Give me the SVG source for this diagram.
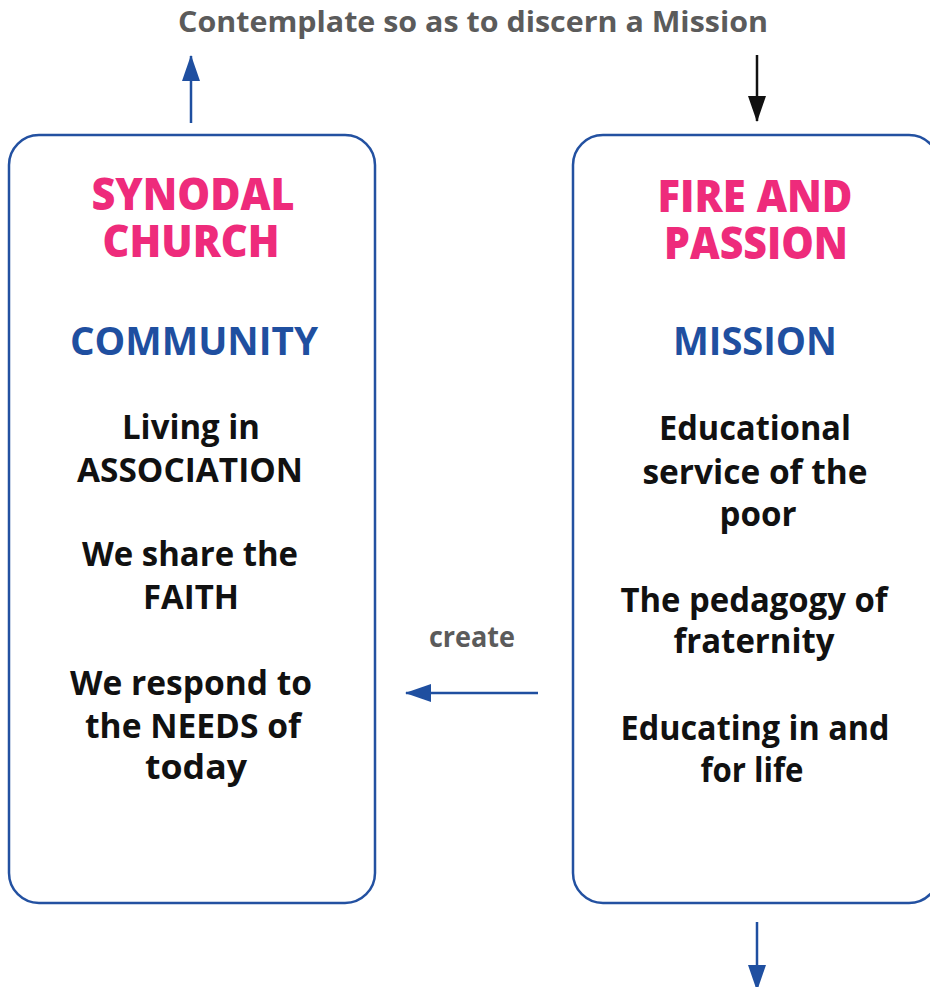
<svg xmlns="http://www.w3.org/2000/svg" width="930" height="987" viewBox="0 0 930 987">
<style>
.box{fill:#fff;stroke:#2351a1;stroke-width:2.5}
.t{font-family:"Open Sans","Noto Sans",sans-serif;text-anchor:middle}
.head{fill:#ee2b7b;font-weight:800;font-size:45px}
.sub{fill:#1f4fa0;font-weight:700;font-size:40px}
.body{fill:#111;font-weight:700;font-size:34px}
.gray{fill:#5b5b5b;font-weight:700;font-size:28px}
.blue{stroke:#1f4fa0;stroke-width:2.5;fill:none}
.blk{stroke:#111;stroke-width:2.5;fill:none}
</style>
<defs>
<marker id="ab" viewBox="0 0 26 18" refX="25" refY="9" markerUnits="userSpaceOnUse" markerWidth="26" markerHeight="18" orient="auto"><path d="M0,0 L26,9 L0,18 Z" fill="#1f4fa0"/></marker>
<marker id="ak" viewBox="0 0 26 18" refX="25" refY="9" markerUnits="userSpaceOnUse" markerWidth="26" markerHeight="18" orient="auto"><path d="M0,0 L26,9 L0,18 Z" fill="#111"/></marker>
</defs>
<rect width="930" height="987" fill="#fff"/>
<text class="t gray" x="473" y="32" textLength="590" lengthAdjust="spacingAndGlyphs">Contemplate so as to discern a Mission</text>
<g id="connectors">
<line class="blue" x1="191" y1="123" x2="191" y2="56" marker-end="url(#ab)"/>
<line class="blk" x1="757" y1="55" x2="757" y2="121" marker-end="url(#ak)"/>
<line class="blue" x1="538" y1="693" x2="406" y2="693" marker-end="url(#ab)"/>
<line class="blue" x1="757" y1="922" x2="757" y2="990" marker-end="url(#ab)"/>
<text class="t gray" x="472" y="647" textLength="86" lengthAdjust="spacingAndGlyphs">create</text>
</g>
<g id="synodal">
<rect class="box" x="9" y="135" width="366" height="768" rx="30"/>
<text class="t head" x="193" y="210" textLength="203" lengthAdjust="spacingAndGlyphs">SYNODAL</text>
<text class="t head" x="191" y="257" textLength="177" lengthAdjust="spacingAndGlyphs">CHURCH</text>
<text class="t sub" x="194" y="355" textLength="248" lengthAdjust="spacingAndGlyphs">COMMUNITY</text>
<text class="t body" x="191" y="439" textLength="138" lengthAdjust="spacingAndGlyphs">Living in</text>
<text class="t body" x="190" y="482" textLength="226" lengthAdjust="spacingAndGlyphs">ASSOCIATION</text>
<text class="t body" x="190" y="566" textLength="216" lengthAdjust="spacingAndGlyphs">We share the</text>
<text class="t body" x="191" y="609" textLength="96" lengthAdjust="spacingAndGlyphs">FAITH</text>
<text class="t body" x="191" y="695" textLength="242" lengthAdjust="spacingAndGlyphs">We respond to</text>
<text class="t body" x="193" y="738" textLength="216" lengthAdjust="spacingAndGlyphs">the NEEDS of</text>
<text class="t body" x="196" y="779" textLength="102" lengthAdjust="spacingAndGlyphs">today</text>
</g>
<g id="fire">
<rect class="box" x="573" y="135" width="366" height="768" rx="30"/>
<text class="t head" x="755" y="212" textLength="195" lengthAdjust="spacingAndGlyphs">FIRE AND</text>
<text class="t head" x="756" y="259" textLength="184" lengthAdjust="spacingAndGlyphs">PASSION</text>
<text class="t sub" x="755" y="355" textLength="164" lengthAdjust="spacingAndGlyphs">MISSION</text>
<text class="t body" x="755" y="440" textLength="192" lengthAdjust="spacingAndGlyphs">Educational</text>
<text class="t body" x="755" y="484" textLength="225" lengthAdjust="spacingAndGlyphs">service of the</text>
<text class="t body" x="758" y="526" textLength="77" lengthAdjust="spacingAndGlyphs">poor</text>
<text class="t body" x="754" y="612" textLength="267" lengthAdjust="spacingAndGlyphs">The pedagogy of</text>
<text class="t body" x="754" y="653" textLength="161" lengthAdjust="spacingAndGlyphs">fraternity</text>
<text class="t body" x="755" y="740" textLength="269" lengthAdjust="spacingAndGlyphs">Educating in and</text>
<text class="t body" x="752" y="782" textLength="103" lengthAdjust="spacingAndGlyphs">for life</text>
</g>
</svg>
